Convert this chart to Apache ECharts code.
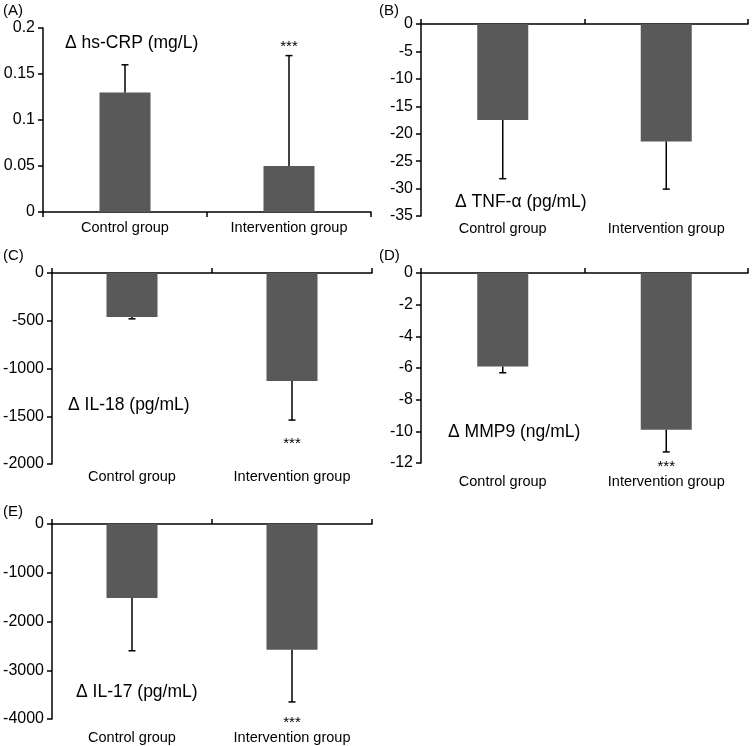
<!DOCTYPE html>
<html><head><meta charset="utf-8">
<script src="https://cdn.jsdelivr.net/npm/echarts@6/dist/echarts.min.js"></script>
<style>html,body{margin:0;padding:0;background:#fff}#c{width:752px;height:746px}</style>
</head><body><div id="c"></div>
<script>
const categories = ['Control group', 'Intervention group'];

const crpMean = [0.13, 0.05];
const crpErr = [0.03, 0.12];
const crpTicks = [0, 0.2, 0.05];

const tnfMean = [-17.5, -21.4];
const tnfErr = [10.7, 8.7];
const tnfTicks = [-35, 0, 5];

const il18Mean = [-460, -1130];
const il18Err = [20, 410];
const il18Ticks = [-2000, 0, 500];

const mmp9Mean = [-5.9, -9.9];
const mmp9Err = [0.4, 1.4];
const mmp9Ticks = [-12, 0, 2];

const il17Mean = [-1520, -2580];
const il17Err = [1080, 1070];
const il17Ticks = [-4000, 0, 1000];

const FONT = '"Liberation Sans", Arial, sans-serif';

const panels = [
  {tag:'(A)', title:'\u0394 hs-CRP (mg/L)', mean:crpMean, err:crpErr, ticks:crpTicks, star:0.184,
   grid:{left:43, top:28, width:328, height:184}, labelMargin:8, tagPos:[3,12], titlePos:[65,43]},
  {tag:'(B)', title:'\u0394 TNF-\u03b1 (pg/mL)', mean:tnfMean, err:tnfErr, ticks:tnfTicks, star:null,
   grid:{left:421, top:24, width:327, height:192}, labelMargin:5, tagPos:[379,12], titlePos:[455,202]},
  {tag:'(C)', title:'\u0394 IL-18 (pg/mL)', mean:il18Mean, err:il18Err, ticks:il18Ticks, star:-1750,
   grid:{left:52, top:273, width:320, height:191}, labelMargin:5, tagPos:[3,257], titlePos:[68,405]},
  {tag:'(D)', title:'\u0394 MMP9 (ng/mL)', mean:mmp9Mean, err:mmp9Err, ticks:mmp9Ticks, star:-12.0,
   grid:{left:421, top:273, width:327, height:190}, labelMargin:11, tagPos:[379,257], titlePos:[448,432]},
  {tag:'(E)', title:'\u0394 IL-17 (pg/mL)', mean:il17Mean, err:il17Err, ticks:il17Ticks, star:-4000,
   grid:{left:52, top:524, width:320, height:195}, labelMargin:11, tagPos:[3,513], titlePos:[76,692]}
];

const grid = [], xAxis = [], yAxis = [], series = [], graphic = [];
const axisLineStyle = {color:'#000', width:1.5};

panels.forEach((p, i) => {
  grid.push(p.grid);
  const positive = p.ticks[0] >= 0;
  const xTop = xAxis.length;
  xAxis.push({
    type:'category', gridIndex:i, data:categories, position: positive ? 'bottom' : 'top',
    axisLine:{show:true, onZero:false, lineStyle:axisLineStyle},
    axisTick:{show:true, length:5, lineStyle:axisLineStyle},
    axisLabel:{show: positive, margin:p.labelMargin, fontSize:14.5, color:'#000', fontFamily:FONT},
    splitLine:{show:false}
  });
  if (!positive) {
    xAxis.push({
      type:'category', gridIndex:i, data:categories, position:'bottom',
      axisLine:{show:false}, axisTick:{show:false},
      axisLabel:{show:true, margin:p.labelMargin, fontSize:14.5, color:'#000', fontFamily:FONT},
      splitLine:{show:false}
    });
  }
  yAxis.push({
    type:'value', gridIndex:i, min:p.ticks[0], max:p.ticks[1], interval:p.ticks[2],
    axisLine:{show:true, lineStyle:axisLineStyle},
    axisTick:{show:true, length:5, lineStyle:axisLineStyle},
    axisLabel:{fontSize:16, color:'#000', fontFamily:FONT, margin:8,
      formatter:v => String(+v.toFixed(4))},
    splitLine:{show:false}
  });
  series.push({
    type:'bar', xAxisIndex:xTop, yAxisIndex:i, data:p.mean, barWidth:51,
    itemStyle:{color:'#595959'}, silent:true, z:2
  });
  const errData = p.mean.map((m, k) => [k, m, p.err[k]]);
  series.push({
    type:'custom', xAxisIndex:xTop, yAxisIndex:i, data:errData, silent:true, z:3,
    encode:{x:0, y:1},
    renderItem:(params, api) => {
      const k = api.value(0), m = api.value(1), e = api.value(2);
      const end = m >= 0 ? m + e : m - e;
      const p0 = api.coord([k, m]);
      const p1 = api.coord([k, end]);
      const st = {stroke:'#000', lineWidth:1.5};
      return {type:'group', children:[
        {type:'line', shape:{x1:p0[0], y1:p0[1], x2:p1[0], y2:p1[1]}, style:st},
        {type:'line', shape:{x1:p1[0]-3.5, y1:p1[1], x2:p1[0]+3.5, y2:p1[1]}, style:st}
      ]};
    }
  });
  if (p.star !== null) {
    series.push({
      type:'custom', xAxisIndex:xTop, yAxisIndex:i, data:[[1, p.star]], silent:true, z:4,
      encode:{x:0, y:1},
      renderItem:(params, api) => {
        const c = api.coord([api.value(0), api.value(1)]);
        return {type:'text', x:c[0], y:c[1] + 4, style:{text:'***', fontSize:15, fontFamily:FONT,
          fill:'#000', align:'center', verticalAlign:'middle', textAlign:'center', textVerticalAlign:'middle'}};
      }
    });
  }
  graphic.push({type:'text', left:p.tagPos[0], top:p.tagPos[1] - 9,
    style:{text:p.tag, fontSize:15, fontFamily:FONT, fill:'#000'}});
  graphic.push({type:'text', x:p.titlePos[0], y:p.titlePos[1],
    style:{text:p.title, fontSize:17.5, fontFamily:FONT, fill:'#000',
      align:'left', verticalAlign:'middle', textAlign:'left', textVerticalAlign:'middle'}});
});

const chart = echarts.init(document.getElementById('c'), null, {renderer:'canvas'});
chart.setOption({animation:false, backgroundColor:'#fff', grid, xAxis, yAxis, series, graphic});
</script>
</body></html>
